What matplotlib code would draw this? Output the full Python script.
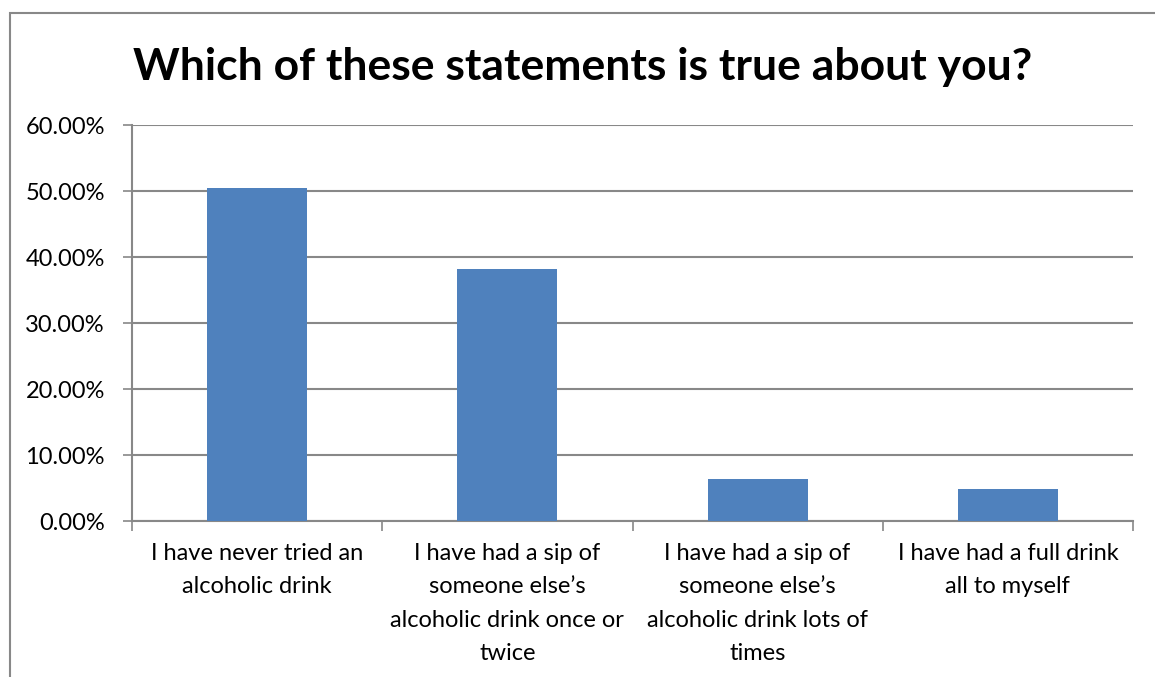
import matplotlib.pyplot as plt
from matplotlib.patches import Rectangle
from matplotlib.ticker import FuncFormatter

categories = [
    "I have never tried an\nalcoholic drink",
    "I have had a sip of\nsomeone else\u2019s\nalcoholic drink once or\ntwice",
    "I have had a sip of\nsomeone else\u2019s\nalcoholic drink lots of\ntimes",
    "I have had a full drink\nall to myself",
]
shares = [50.45, 38.18, 6.36, 4.85]
y_ticks = [0, 10, 20, 30, 40, 50, 60]

plt.rcParams['font.family'] = ['Lato', 'DejaVu Sans']
grid_col = "#888888"

fig = plt.figure(figsize=(11.55, 6.77), dpi=100)
ax = fig.add_axes([132 / 1155, 1 - 521 / 677, (1133 - 132) / 1155, (521 - 125) / 677])

x = list(range(len(categories)))
ax.bar(x, shares, width=0.4, color="#4F81BD", zorder=3)

ax.set_xlim(-0.5, len(categories) - 0.5)
ax.set_ylim(0, 60)
ax.set_yticks(y_ticks)
ax.yaxis.set_major_formatter(FuncFormatter(lambda v, p: f"{v:.2f}%"))
ax.grid(axis="y", color=grid_col, linewidth=1.5, zorder=0)

# category ticks sit between bars, labels centred under bars
ax.set_xticks([i - 0.5 for i in range(len(categories) + 1)])
ax.set_xticklabels([])
ax.set_xticks(x, minor=True)
ax.set_xticklabels(categories, minor=True, fontsize=17, linespacing=1.72, va="top")
ax.tick_params(axis="x", which="minor", length=0, pad=16)
ax.tick_params(axis="x", which="major", length=7, width=1.2, color=grid_col)
ax.tick_params(axis="y", length=6.5, width=1.2, color=grid_col, labelsize=17, pad=13)

for side in ["top", "right"]:
    ax.spines[side].set_visible(False)
for side in ["left", "bottom"]:
    ax.spines[side].set_color(grid_col)
    ax.spines[side].set_linewidth(1.5)

fig.text(583 / 1155, 1 - 80 / 677, "Which of these statements is true about you?",
         ha="center", va="baseline", fontsize=32, fontweight="bold")

# chart frame, running off the right and bottom edges
fig.patches.append(Rectangle((10 / 1155, -0.1), 1.2, 1.1 - 13 / 677,
                             transform=fig.transFigure, fill=False,
                             edgecolor=grid_col, linewidth=1.5))

fig.savefig("out.png", dpi=100)
